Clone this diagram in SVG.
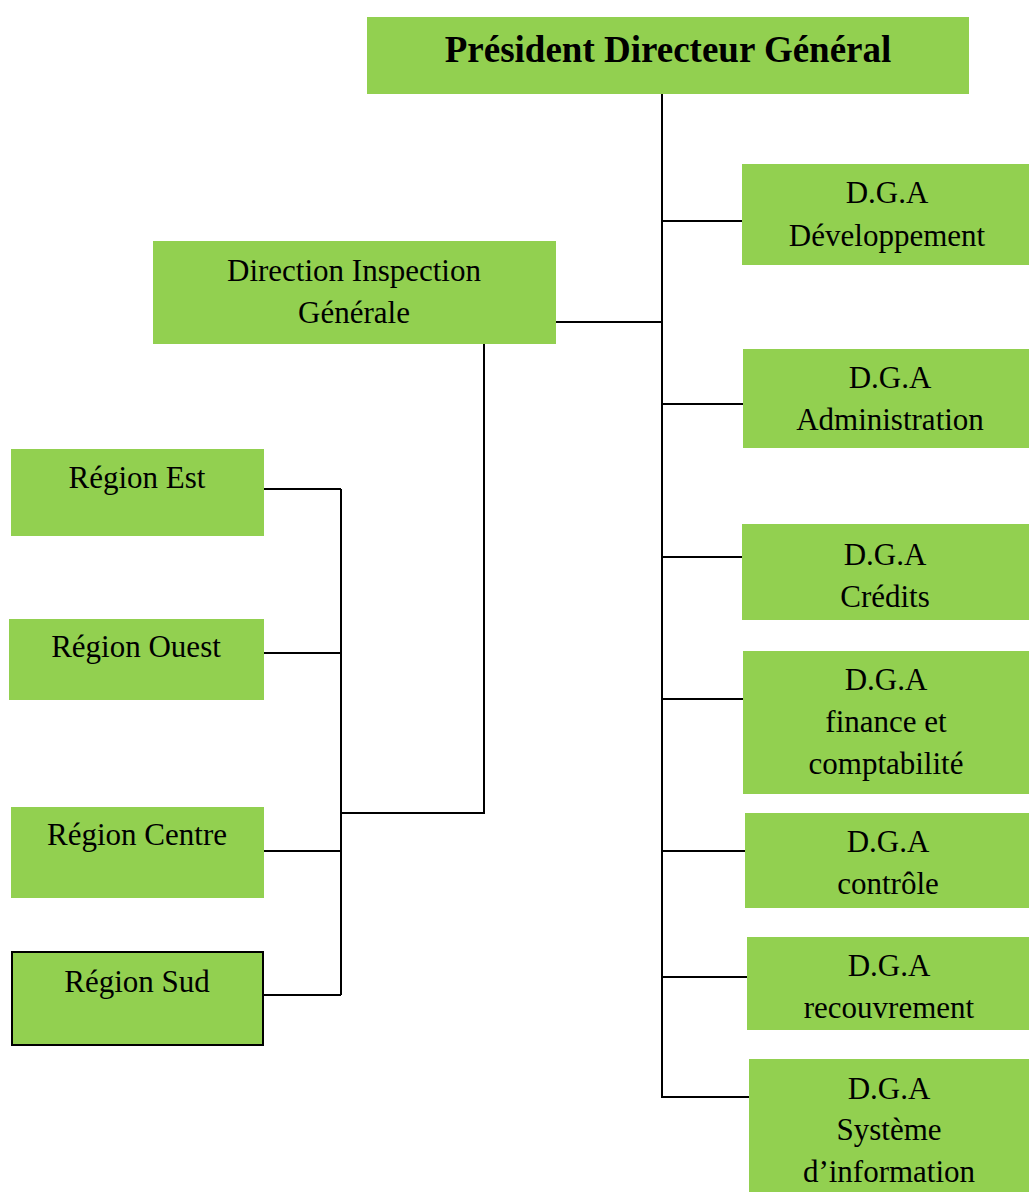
<svg xmlns="http://www.w3.org/2000/svg" width="1029" height="1192" viewBox="0 0 1029 1192">
<style>
.box{fill:#92D050;stroke:none}
.t{font-family:"Liberation Serif","Times New Roman",serif;font-size:31px;fill:#000;text-anchor:middle}
.b{font-weight:bold;font-size:37px}
.c{fill:none;stroke:#000;stroke-width:2}
</style>
<rect width="1029" height="1192" fill="#fff"/>
<g id="connectors">
<path class="c" d="M662 94V1098"/>
<path class="c" d="M662 221H742"/>
<path class="c" d="M556 322H662"/>
<path class="c" d="M662 404H743"/>
<path class="c" d="M662 557H742"/>
<path class="c" d="M662 699H743"/>
<path class="c" d="M662 851H745"/>
<path class="c" d="M662 977H747"/>
<path class="c" d="M662 1097H749"/>
<path class="c" d="M484 344V813H341"/>
<path class="c" d="M341 489V995"/>
<path class="c" d="M264 489H341"/>
<path class="c" d="M264 653H341"/>
<path class="c" d="M264 851H341"/>
<path class="c" d="M264 995H341"/>
</g>
<g id="pdg"><rect class="box" x="367" y="17" width="602" height="77"/><text class="t b" x="668" y="62">Président Directeur Général</text></g>
<g id="dig"><rect class="box" x="153" y="241" width="403" height="103"/><text class="t" x="354" y="281">Direction Inspection</text><text class="t" x="354" y="323">Générale</text></g>
<g id="dga-dev"><rect class="box" x="742" y="164" width="287" height="101"/><text class="t" x="887" y="203">D.G.A</text><text class="t" x="887" y="246">Développement</text></g>
<g id="dga-admin"><rect class="box" x="743" y="349" width="286" height="99"/><text class="t" x="890" y="388">D.G.A</text><text class="t" x="890" y="430">Administration</text></g>
<g id="dga-credits"><rect class="box" x="742" y="524" width="287" height="96"/><text class="t" x="885" y="565">D.G.A</text><text class="t" x="885" y="607">Crédits</text></g>
<g id="dga-finance"><rect class="box" x="743" y="651" width="286" height="143"/><text class="t" x="886" y="690">D.G.A</text><text class="t" x="886" y="732">finance et</text><text class="t" x="886" y="774">comptabilité</text></g>
<g id="dga-controle"><rect class="box" x="745" y="813" width="284" height="95"/><text class="t" x="888" y="852">D.G.A</text><text class="t" x="888" y="894">contrôle</text></g>
<g id="dga-recouvrement"><rect class="box" x="747" y="937" width="282" height="93"/><text class="t" x="889" y="976">D.G.A</text><text class="t" x="889" y="1018">recouvrement</text></g>
<g id="dga-si"><rect class="box" x="749" y="1059" width="280" height="133"/><text class="t" x="889" y="1099">D.G.A</text><text class="t" x="889" y="1140">Système</text><text class="t" x="889" y="1182">d’information</text></g>
<g id="region-est"><rect class="box" x="11" y="449" width="253" height="87"/><text class="t" x="137" y="488">Région Est</text></g>
<g id="region-ouest"><rect class="box" x="9" y="619" width="255" height="81"/><text class="t" x="136" y="657">Région Ouest</text></g>
<g id="region-centre"><rect class="box" x="11" y="807" width="253" height="91"/><text class="t" x="137" y="845">Région Centre</text></g>
<g id="region-sud"><rect class="box" x="12" y="952" width="251" height="93" stroke="#000" stroke-width="2" style="stroke:#000"/><text class="t" x="137" y="992">Région Sud</text></g>
</svg>
